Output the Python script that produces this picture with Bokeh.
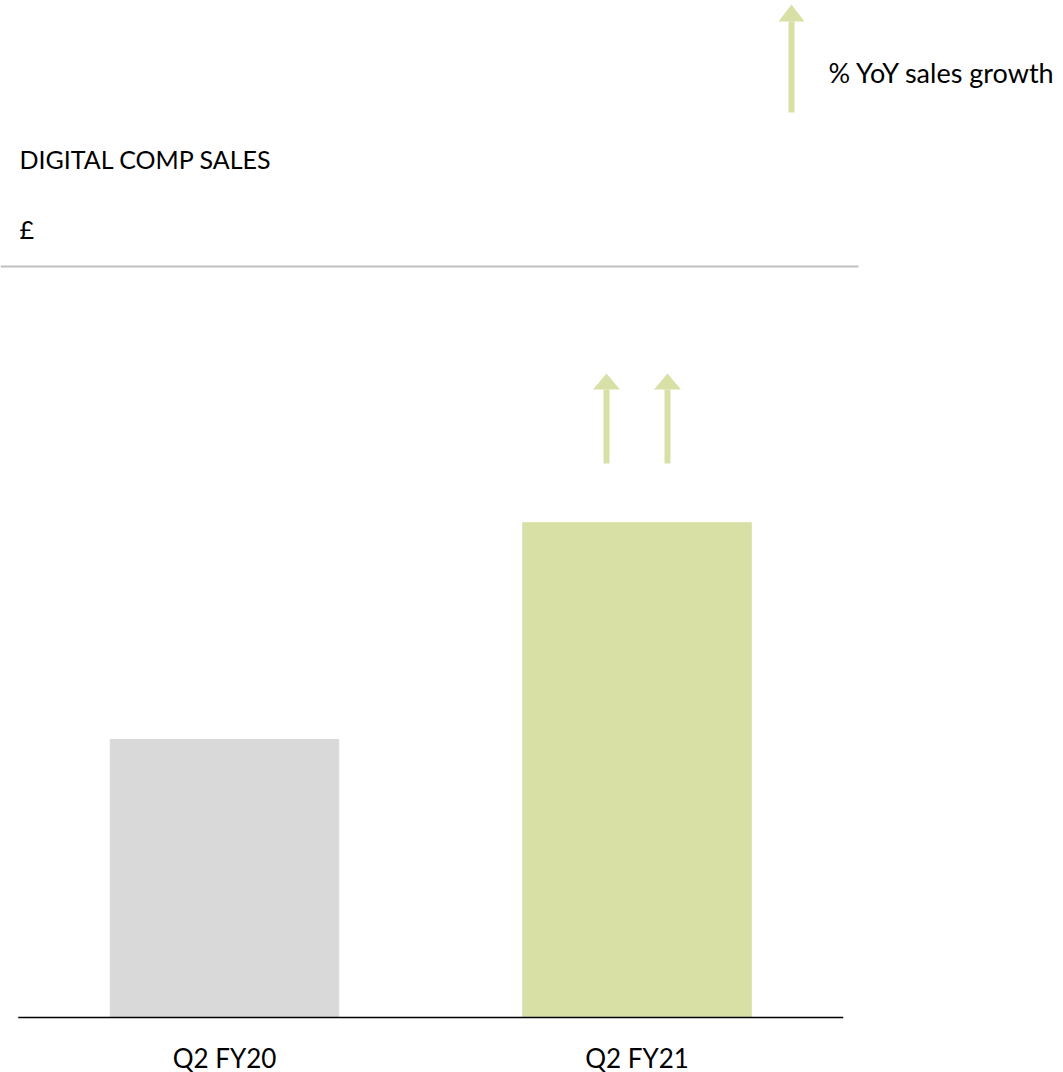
from bokeh.plotting import figure
from bokeh.models import Range1d, ColumnDataSource
from bokeh.core.properties import value
from bokeh.embed import file_html
from bokeh.resources import INLINE

# ---- data ----
categories = ["Q2 FY20", "Q2 FY21"]
sales_index = [100, 178]          # digital comp sales, indexed (Q2 FY20 = 100)
bar_colors = ["#d9d9d9", "#d9e0a5"]
title_text = "DIGITAL COMP SALES"
unit_text = "£"
legend_text = "% YoY sales growth"

FONT = "Lato"
FS = "25px"
GREEN = "#d9e0a5"

# pixel helpers (canvas origin at page top-left)
PX_PER_CAT = 412.5
CAT0_PX = 224.0
BASE_PY = 1017.0
PX_PER_UNIT = 2.78
OFF = 0


def X(px):
    return (px - CAT0_PX) / PX_PER_CAT


def Y(py):
    return (BASE_PY - py) / PX_PER_UNIT


W, H = 1063, 1072
p = figure(width=W, height=H, output_backend="svg", toolbar_location=None,
           x_range=Range1d(X(OFF), X(OFF + W)), y_range=Range1d(Y(OFF + H), Y(OFF)),
           x_axis_location=None, y_axis_location=None, min_border=0)
p.grid.visible = False
p.outline_line_color = None
p.background_fill_color = "white"
p.border_fill_color = "white"

n = len(categories)
src = ColumnDataSource(dict(x=list(range(n)), top=sales_index,
                            color=bar_colors, label=categories,
                            ly=[Y(1057)] * n))
p.vbar(x="x", top="top", bottom=0, width=0.554, color="color", source=src)

# baseline (axis line)
p.segment(x0=[-0.5], y0=[0], x1=[1.5], y1=[0], line_color="black", line_width=1.6)

# category labels
p.text(x="x", y="ly", text="label", source=src,
       text_align="center", text_baseline="alphabetic",
       text_font=value(FONT), text_font_size=value("26px"), text_color="black")

# header rule
p.segment(x0=[X(0)], y0=[Y(266)], x1=[X(858)], y1=[Y(266)], line_color="#bfbfbf", line_width=2)

# header texts
p.text(x=[X(19)], y=[Y(158)], text=[title_text], text_baseline="alphabetic",
       text_font=value(FONT), text_font_size=value(FS), text_color="black")
p.text(x=[X(19)], y=[Y(228)], text=[unit_text], text_baseline="alphabetic",
       text_font=value(FONT), text_font_size=value(FS), text_color="black")
p.text(x=[X(828)], y=[Y(72)], text=[legend_text], text_baseline="alphabetic",
       text_font=value(FONT), text_font_size=value("27px"), text_color="black")


def arrow(cx, bottom, head_base, tip, shaft_w=6, head_w=27):
    p.quad(left=[X(cx - shaft_w / 2)], right=[X(cx + shaft_w / 2)],
           bottom=[Y(bottom)], top=[Y(head_base)], fill_color=GREEN, line_color=None)
    p.patch(x=[X(cx - head_w / 2), X(cx), X(cx + head_w / 2)],
            y=[Y(head_base), Y(tip), Y(head_base)], fill_color=GREEN, line_color=None)


# growth arrows above the Q2 FY21 bar
arrow(606, 463, 389, 373)
arrow(667, 463, 389, 373)
# legend arrow
arrow(791, 112, 21, 4, head_w=26)

open("out.html", "w").write(file_html(p, INLINE))
